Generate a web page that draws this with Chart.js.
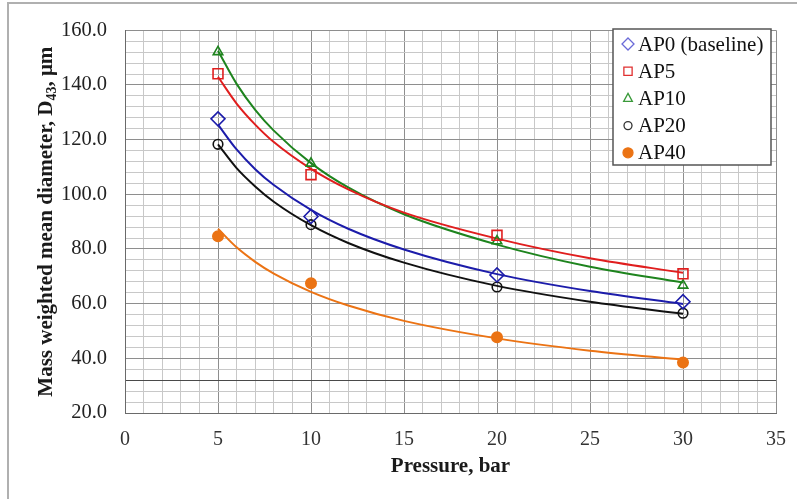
<!DOCTYPE html>
<html>
<head>
<meta charset="utf-8">
<script src="https://cdn.jsdelivr.net/npm/chart.js@4.4.0/dist/chart.umd.min.js"></script>
<style>
  html, body { margin: 0; padding: 0; background: #fff; }
  #wrap { width: 797px; height: 499px; position: relative; }
</style>
</head>
<body>
<div id="wrap"><canvas id="chart" width="797" height="499"></canvas></div>
<script>
const pressure = [5, 10, 20, 30];
const ap0 = [127.6, 91.9, 70.5, 60.7];
const ap5 = [144.1, 107.2, 85.0, 70.9];
const ap10 = [152.1, 111.3, 82.9, 66.7];
const ap20 = [118.3, 88.9, 66.1, 56.5];
const ap40 = [84.7, 67.5, 47.7, 38.5];

// Courbes de tendance
const trendX = [5, 6, 7, 8, 10, 12, 15, 20, 25, 30];
const trendAp0 = [125.5, 116.4, 109.2, 103.4, 94.3, 87.4, 79.8, 70.8, 64.6, 59.9];
const trendAp5 = [143.0, 133.2, 125.5, 119.1, 109.3, 101.8, 93.3, 83.8, 76.6, 71.3];
const trendAp10 = [152.5, 140.4, 130.9, 123.3, 111.4, 102.5, 92.7, 81.6, 73.5, 67.7];
const trendAp20 = [118.3, 109.6, 102.9, 97.3, 88.7, 82.2, 75.0, 66.5, 60.7, 56.3];
const trendAp40 = [87.4, 80.6, 75.3, 71.0, 64.3, 59.3, 53.7, 47.3, 42.8, 39.5];

const seriesNames = ["AP0 (baseline)", "AP5", "AP10", "AP20", "AP40"];
const xTitle = "Pressure, bar";
const yTitle = "Mass weighted mean diameter, D";
const yTitleSub = "43";
const yTitleEnd = ", \u03bcm";

const colors = ["#1c1caa", "#e01e1e", "#1e841e", "#111111", "#eb7314"];
const legendColors = ["#6a6ad8", "#e03030", "#3a9a3a", "#333333", "#eb7314"];
const styles = ["rectRot", "rect", "triangle", "circle", "circle"];
const radii = [7, 7, 5.5, 4.8, 5.2];
const filled = [false, false, false, false, true];

const SERIF = "'Liberation Serif', 'DejaVu Serif', serif";

function toPoints(xs, ys) {
  return xs.map((x, i) => ({ x: x, y: ys[i] }));
}

// construction des datasets : points d'abord (dessines au-dessus), tendances ensuite
const values = [ap0, ap5, ap10, ap20, ap40];
const trends = [trendAp0, trendAp5, trendAp10, trendAp20, trendAp40];
const datasets = [];

values.forEach((v, i) => {
  datasets.push({
    label: seriesNames[i],
    data: toPoints(pressure, v),
    showLine: false,
    pointStyle: styles[i],
    pointRadius: radii[i],
    pointBorderWidth: 1.6,
    pointBorderColor: colors[i],
    pointBackgroundColor: filled[i] ? colors[i] : "rgba(255,255,255,0)",
  });
});

trends.forEach((t, i) => {
  datasets.push({
    label: "trend " + seriesNames[i],
    data: toPoints(trendX, t),
    showLine: true,
    borderColor: colors[i],
    borderWidth: 2,
    pointRadius: 0,
    cubicInterpolationMode: "monotone",
    fill: false,
  });
});

// petit dessin des symboles de la legende
function drawMarker(ctx, style, x, y, r, color, fillIt) {
  ctx.save();
  ctx.strokeStyle = color;
  ctx.fillStyle = color;
  ctx.lineWidth = 1.3;
  ctx.beginPath();
  if (style == "rectRot") {
    ctx.moveTo(x, y - r);
    ctx.lineTo(x + r, y);
    ctx.lineTo(x, y + r);
    ctx.lineTo(x - r, y);
    ctx.closePath();
  } else if (style == "rect") {
    ctx.rect(x - r * 0.75, y - r * 0.75, r * 1.5, r * 1.5);
  } else if (style == "triangle") {
    ctx.moveTo(x, y - r);
    ctx.lineTo(x + r * 0.87, y + r * 0.6);
    ctx.lineTo(x - r * 0.87, y + r * 0.6);
    ctx.closePath();
  } else {
    ctx.arc(x, y, r, 0, Math.PI * 2);
  }
  if (fillIt) ctx.fill();
  ctx.stroke();
  ctx.restore();
}

const decorPlugin = {
  id: "decor",
  beforeDraw(chart) {
    const ctx = chart.ctx;
    ctx.save();
    ctx.fillStyle = "#fff";
    ctx.fillRect(0, 0, chart.width, chart.height);
    // cadre gris de la figure
    ctx.strokeStyle = "#b0b0b0";
    ctx.lineWidth = 2;
    ctx.beginPath();
    ctx.moveTo(8, chart.height);
    ctx.lineTo(8, 3);
    ctx.lineTo(chart.width, 3);
    ctx.stroke();
    ctx.restore();
  },
  afterDraw(chart) {
    const ctx = chart.ctx;
    const area = chart.chartArea;

    // titre de l'axe x
    ctx.save();
    ctx.fillStyle = "#1a1a1a";
    ctx.font = "bold 21px " + SERIF;
    ctx.textAlign = "center";
    ctx.textBaseline = "middle";
    ctx.fillText(xTitle, (area.left + area.right) / 2, 467);
    ctx.restore();

    // titre de l'axe y avec indice
    ctx.save();
    ctx.fillStyle = "#1a1a1a";
    ctx.translate(45, (area.top + area.bottom) / 2);
    ctx.rotate(-Math.PI / 2);
    const big = "bold 21px " + SERIF;
    const small = "bold 14px " + SERIF;
    ctx.font = big;
    const w1 = ctx.measureText(yTitle).width;
    const w3 = ctx.measureText(yTitleEnd).width;
    ctx.font = small;
    const w2 = ctx.measureText(yTitleSub).width;
    let x0 = -(w1 + w2 + w3) / 2;
    ctx.textBaseline = "alphabetic";
    ctx.font = big;
    ctx.fillText(yTitle, x0, 7);
    ctx.font = small;
    ctx.fillText(yTitleSub, x0 + w1, 11);
    ctx.font = big;
    ctx.fillText(yTitleEnd, x0 + w1 + w2, 7);
    ctx.restore();

    // legende dans la zone du graphique
    const lx = 613, ly = 29, lw = 158, lh = 136;
    ctx.save();
    ctx.fillStyle = "#fff";
    ctx.fillRect(lx, ly, lw, lh);
    ctx.strokeStyle = "#555";
    ctx.lineWidth = 1.5;
    ctx.strokeRect(lx, ly, lw, lh);
    ctx.font = "21px " + SERIF;
    ctx.fillStyle = "#111";
    ctx.textBaseline = "middle";
    const legR = [6, 5.5, 5, 4, 5];
    seriesNames.forEach((name, i) => {
      const yy = ly + 15 + i * 27.2;
      drawMarker(ctx, styles[i], lx + 15, yy, legR[i], legendColors[i], filled[i]);
      ctx.fillText(name, lx + 25, yy + 1);
    });
    ctx.restore();
  },
};

function gridColorX(c) {
  const v = c.tick.value;
  return v % 5 === 0 ? "#8e8e8e" : "#c8c8c8";
}

function gridColorY(c) {
  const v = c.tick.value;
  if (v === 32) return "#4a4a4a";
  return v % 20 === 0 ? "#8e8e8e" : "#c8c8c8";
}

new Chart(document.getElementById("chart").getContext("2d"), {
  type: "scatter",
  data: { datasets: datasets },
  plugins: [decorPlugin],
  options: {
    responsive: false,
    animation: false,
    layout: { padding: { top: 24, right: 21, left: 0, bottom: 0 } },
    plugins: {
      legend: { display: false },
      tooltip: { enabled: false },
    },
    scales: {
      x: {
        type: "linear",
        min: 0,
        max: 35,
        afterFit(scale) {
          scale.height = 86;
          scale.paddingLeft = 0;
          scale.paddingRight = 0;
        },
        ticks: {
          stepSize: 1,
          autoSkip: false,
          maxRotation: 0,
          padding: 15,
          color: "#333",
          font: { family: SERIF, size: 20 },
          callback: (v) => (v % 5 === 0 ? String(v) : ""),
        },
        grid: { color: gridColorX, drawTicks: false, lineWidth: 1 },
        border: { color: "#6a6a6a", width: 1 },
      },
      y: {
        type: "linear",
        min: 20,
        max: 160,
        afterFit(scale) { scale.width = 125; },
        ticks: {
          stepSize: 4,
          autoSkip: false,
          padding: 18,
          color: "#222",
          font: { family: SERIF, size: 20.5 },
          callback: (v) => (v % 20 === 0 ? v.toFixed(1) : ""),
        },
        grid: { color: gridColorY, drawTicks: false, lineWidth: 1 },
        border: { color: "#6a6a6a", width: 1 },
      },
    },
  },
});
</script>
</body>
</html>
